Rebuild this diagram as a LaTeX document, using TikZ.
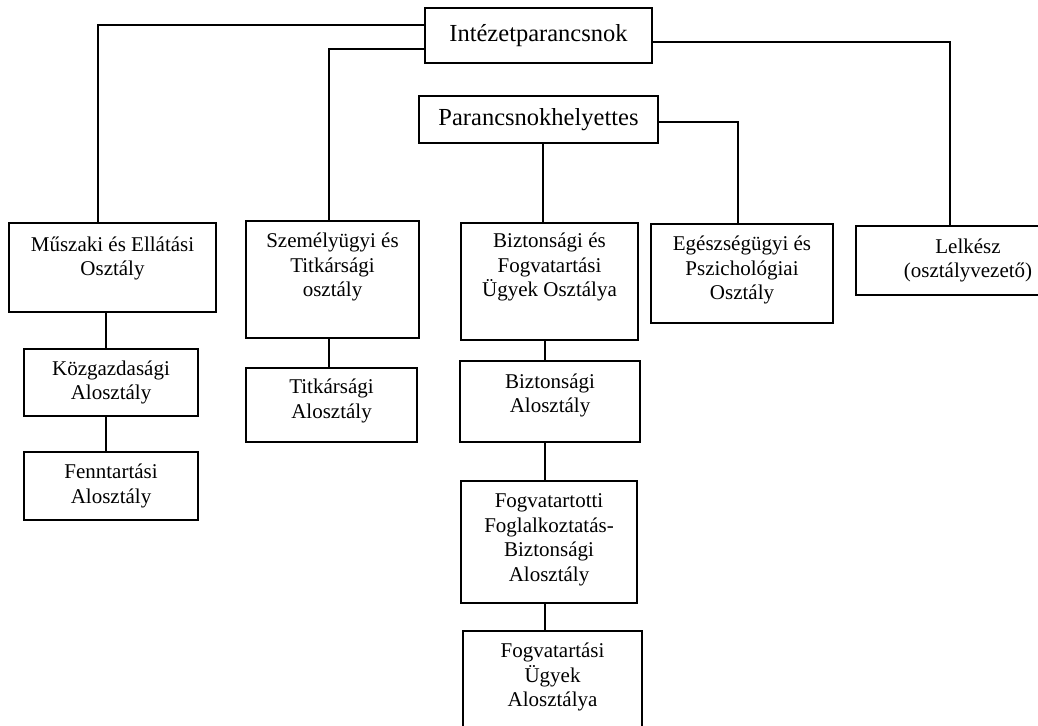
\documentclass[tikz,border=0pt]{standalone}
\usepackage{fontspec}
\setmainfont{Liberation Serif}
\usetikzlibrary{positioning}

\begin{document}
\begin{tikzpicture}[x=1pt,y=-1pt,line width=1.2pt,
                box/.style={draw, rectangle, inner sep=0pt},
                head/.style={box, font=\fontsize{24.5pt}{29pt}\selectfont},
                txt/.style={align=center, inner sep=0pt, font=\fontsize{21pt}{24.5pt}\selectfont}]
    \useasboundingbox (0,0) rectangle (1038,725);

    % vezetes
    \node[head, minimum width=227pt, minimum height=55pt] (intezet) at (538.5,35.5) {Intézetparancsnok};
    \node[head, minimum width=239pt, minimum height=47pt] (helyettes) at (538.5,119.5) {Parancsnokhelyettes};

    % osztalyok
    \node[box, minimum width=207pt, minimum height=89pt] (muszaki) at (112.5,267.5) {};
    \node[box, minimum width=173pt, minimum height=117pt] (szemely) at (332.5,279.5) {};
    \node[box, minimum width=177pt, minimum height=117pt] (bizt) at (549.5,281.5) {};
    \node[box, minimum width=182pt, minimum height=99pt] (egeszseg) at (742,273.5) {};
    \node[box, minimum width=224pt, minimum height=69pt] (lelkesz) at (968,260.5) {};

    % alosztalyok
    \node[box, minimum width=174pt, minimum height=67pt] (kozgazd) at (111,382.5) {};
    \node[box, minimum width=174pt, minimum height=68pt] (fenntart) at (111,486) {};
    \node[box, minimum width=171pt, minimum height=74pt] (titkar) at (331.5,405) {};
    \node[box, minimum width=180pt, minimum height=81pt] (biztalo) at (550,401.5) {};
    \node[box, minimum width=176pt, minimum height=122pt] (fogfogl) at (549,542) {};
    \node[box, minimum width=179pt, minimum height=104pt] (fogugy) at (552.5,683) {};

    % feliratok
    \node[txt] (muszakit) at ([yshift=9pt]muszaki.center) {Műszaki és Ellátási\\Osztály};
    \node[txt] (szemelyt) at ([yshift=12.5pt]szemely.center) {Személyügyi és\\Titkársági\\osztály};
    \node[txt] (biztt) at ([yshift=14.5pt]bizt.center) {Biztonsági és\\Fogvatartási\\Ügyek Osztálya};
    \node[txt] (egeszsegt) at ([yshift=3.5pt]egeszseg.center) {Egészségügyi és\\Pszichológiai\\Osztály};
    \node[txt] (lelkeszt) at (lelkesz.center) {Lelkész\\(osztályvezető)};
    \node[txt] (kozgazdt) at (kozgazd.center) {Közgazdasági\\Alosztály};
    \node[txt] (fenntartt) at (fenntart.center) {Fenntartási\\Alosztály};
    \node[txt] (titkart) at ([yshift=4pt]titkar.center) {Titkársági\\Alosztály};
    \node[txt] (biztalot) at ([yshift=6pt]biztalo.center) {Biztonsági\\Alosztály};
    \node[txt] (fogfoglt) at ([yshift=2pt]fogfogl.center) {Fogvatartotti\\Foglalkoztatás-\\Biztonsági\\Alosztály};
    \node[txt] (fogugyt) at ([yshift=6pt]fogugy.center) {Fogvatartási\\Ügyek\\Alosztálya};

    % vonalak
    \coordinate (colM) at (98,0);
    \coordinate (colS) at (329,0);
    \coordinate (colL) at (950,0);
    \coordinate (colE) at (738,0);
    \coordinate (colB) at (543,0);
    \coordinate (colK) at (106,0);
    \coordinate (colA) at (545,0);

    \draw ([yshift=10.5pt]intezet.west) -| (muszaki.north -| colM);
    \draw ([yshift=-13.5pt]intezet.west) -| (szemely.north -| colS);
    \draw ([yshift=-6.5pt]intezet.east) -| (lelkesz.north -| colL);
    \draw ([yshift=-2.5pt]helyettes.east) -| (egeszseg.north -| colE);
    \draw (helyettes.south -| colB) -- (bizt.north -| colB);

    \draw (muszaki.south -| colK) -- (kozgazd.north -| colK);
    \draw (kozgazd.south -| colK) -- (fenntart.north -| colK);
    \draw (szemely.south -| colS) -- (titkar.north -| colS);
    \draw (bizt.south -| colA) -- (biztalo.north -| colA);
    \draw (biztalo.south -| colA) -- (fogfogl.north -| colA);
    \draw (fogfogl.south -| colA) -- (fogugy.north -| colA);
\end{tikzpicture}
\end{document}
